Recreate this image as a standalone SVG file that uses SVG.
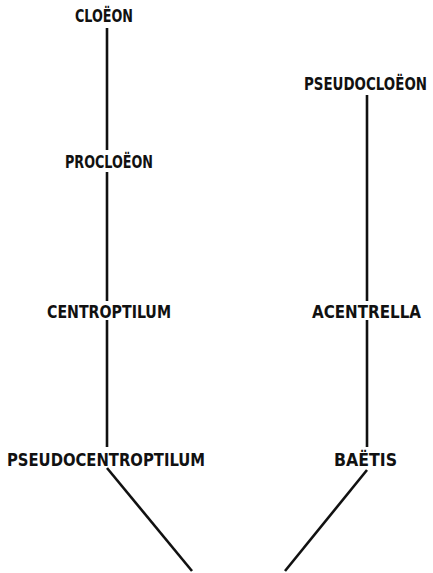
<svg xmlns="http://www.w3.org/2000/svg" width="433" height="573" viewBox="0 0 433 573">
<style>
text{font-family:"DejaVu Sans Condensed","DejaVu Sans","Liberation Sans",sans-serif;font-weight:bold;font-stretch:condensed;font-size:18px;fill:#111;text-anchor:middle}
.c line{stroke:#111;stroke-width:2.6;stroke-linecap:butt}
</style>
<rect width="433" height="573" fill="#fff"/>
<g class="c" id="connectors">
<line x1="107" y1="28" x2="107" y2="150"/>
<line x1="107" y1="172" x2="107" y2="301"/>
<line x1="107" y1="320" x2="107" y2="447"/>
<line x1="107" y1="468" x2="192" y2="571"/>
<line x1="367" y1="95" x2="367" y2="301"/>
<line x1="367" y1="320" x2="367" y2="447"/>
<line x1="367" y1="470" x2="285" y2="571"/>
</g>
<g id="n-cloeon"><text x="104" y="22" textLength="58" lengthAdjust="spacingAndGlyphs">CLOËON</text></g>
<g id="n-procloeon"><text x="109" y="168" textLength="88" lengthAdjust="spacingAndGlyphs">PROCLOËON</text></g>
<g id="n-pseudocloeon"><text x="427" y="90" style="text-anchor:end" textLength="123" lengthAdjust="spacingAndGlyphs">PSEUDOCLOËON</text></g>
<g id="n-centroptilum"><text x="109" y="318" textLength="124" lengthAdjust="spacingAndGlyphs">CENTROPTILUM</text></g>
<g id="n-acentrella"><text x="366.5" y="318" textLength="109" lengthAdjust="spacingAndGlyphs">ACENTRELLA</text></g>
<g id="n-pseudocentroptilum"><text x="106" y="466" textLength="198" lengthAdjust="spacingAndGlyphs">PSEUDOCENTROPTILUM</text></g>
<g id="n-baetis"><text x="365.5" y="466" textLength="63" lengthAdjust="spacingAndGlyphs">BAËTIS</text></g>
</svg>
